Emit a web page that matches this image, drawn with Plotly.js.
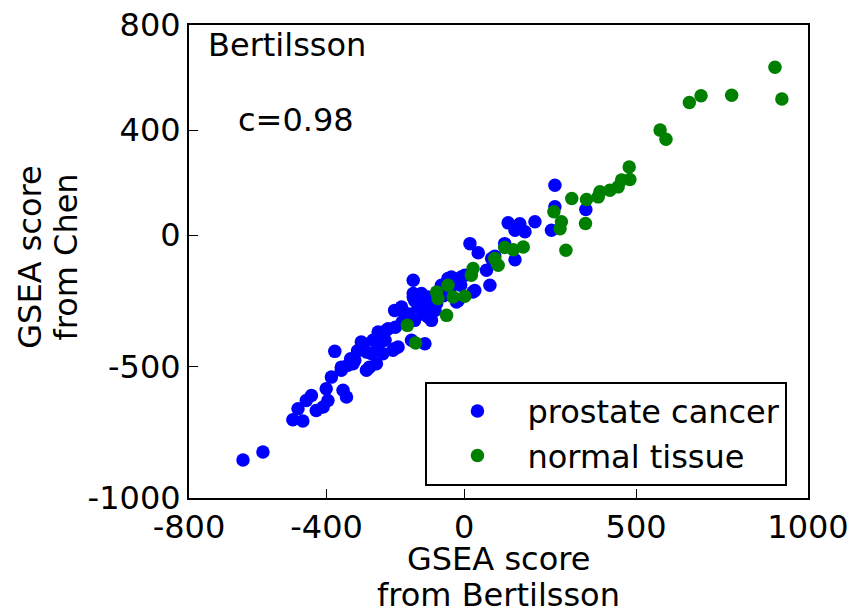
<!DOCTYPE html>
<html>
<head>
<meta charset="utf-8">
<script src="https://cdn.plot.ly/plotly-3.0.1.min.js"></script>
<style>html,body{margin:0;padding:0;background:#fff;}#chart{width:857px;height:612px;}</style>
</head>
<body>
<div id="chart"></div>
<script>
// prostate cancer (blue)
var cancerX = [-643,-585,-498,-469,-483,-459,-444,-430,-410,-396,-401,-386,-352,-342,-357,-357,-323,-376,-318,-338,
  -299,-294,-284,-284,-275,-255,-250,-245,-226,-221,-207,-202,-202,-182,-182,-148,-148,-148,-153,-114,
  -95,-109,-105,-124,-144,-47,-37,-8,-66,-22,-17,31,26,2,65,75,80,89,17,41,118,148,128,162,148,177,206,254,264,264,354,
  -129,-265,-236,-192,-134,-105,-144,-85,-250,-230,-180,-160,-130,-100,-80,-60,-200,-270,-310,-330,-170,-120,-90,-40,-10];
var cancerY = [-855,-825,-702,-707,-660,-629,-610,-667,-654,-629,-584,-540,-590,-616,-514,-502,-489,-442,-476,-495,
  -406,-413,-444,-514,-502,-489,-368,-375,-362,-356,-438,-432,-286,-273,-286,-171,-222,-235,-400,-413,
  -324,-273,-311,-222,-248,-165,-159,-159,-190,-254,-248,-210,-216,-152,-133,-190,-89,-80,-32,-67,-32,-93,47,44,19,13,51,19,190,108,98,
  -273,-400,-451,-425,-273,-235,-324,-286,-420,-400,-330,-300,-260,-240,-260,-230,-350,-450,-440,-470,-320,-300,-270,-200,-190];
// normal tissue (green)
var normalX = [904,924,778,689,655,570,587,480,482,458,448,424,395,390,356,313,353,296,283,279,261,172,143,118,89,99,26,21,-47,-80,-76,-32,2,-51,-165,-141];
var normalY = [639,518,533,531,505,400,365,260,212,210,184,171,165,146,136,140,45,-57,51,25,89,-45,-55,-47,-89,-114,-127,-152,-190,-216,-241,-235,-232,-305,-343,-410];

var xTickVals = [-800,-400,0,500,1000];
var xTickText = ["-800","-400","0","500","1000"];
var yTickVals = [-1000,-500,0,400,800];
var yTickText = ["-1000","-500","0","400","800"];
var xTitleLines = ["GSEA score", "from Bertilsson"];
var yTitleLines = ["GSEA score", "from Chen"];

var font = "DejaVu Sans";
var fs = 32;
var tf = {family: font, size: fs, color: "#000"};
var traces = [
  {x: cancerX, y: cancerY, type: "scatter", mode: "markers", name: "prostate cancer",
   marker: {color: "#0000ff", size: 13.5, line: {width: 0}}},
  {x: normalX, y: normalY, type: "scatter", mode: "markers", name: "normal tissue",
   marker: {color: "#008000", size: 13.5, line: {width: 0}}}
];
var axisCommon = {showgrid: false, zeroline: false, showline: true, mirror: true, linecolor: "#000", linewidth: 2,
  ticks: "inside", ticklen: 9, tickwidth: 1, tickcolor: "#000", tickfont: tf, tickmode: "array"};
var layout = {
  width: 857, height: 612,
  margin: {l: 189, r: 49, t: 25, b: 114, pad: 0},
  paper_bgcolor: "#fff", plot_bgcolor: "#fff",
  font: tf,
  xaxis: Object.assign({}, axisCommon, {range: [-800, 1000], tickvals: xTickVals, ticktext: xTickText}),
  yaxis: Object.assign({}, axisCommon, {range: [-1000, 800], tickvals: yTickVals, ticktext: yTickText}),
  showlegend: true,
  legend: {x: 0.382, y: 0.246, xanchor: "left", yanchor: "top", bgcolor: "#fff", bordercolor: "#000", borderwidth: 2,
    font: tf, itemwidth: 90, tracegroupgap: 6},
  annotations: [
    {xref: "paper", yref: "paper", x: 0.028, y: 0.958, xanchor: "left", yanchor: "middle", showarrow: false,
     text: "Bertilsson", font: tf},
    {xref: "paper", yref: "paper", x: 0.076, y: 0.8, xanchor: "left", yanchor: "middle", showarrow: false,
     text: "c=0.98", font: tf},
    {xref: "paper", yref: "paper", x: 0.5, y: -0.1285, xanchor: "center", yanchor: "middle", showarrow: false,
     borderpad: 0, text: xTitleLines[0], font: tf},
    {xref: "paper", yref: "paper", x: 0.5, y: -0.2055, xanchor: "center", yanchor: "middle", showarrow: false,
     borderpad: 0, text: xTitleLines[1], font: tf},
    {xref: "paper", yref: "paper", x: -0.257, y: 0.51, xanchor: "center", yanchor: "middle", showarrow: false,
     textangle: -90, text: yTitleLines[0], font: tf},
    {xref: "paper", yref: "paper", x: -0.199, y: 0.51, xanchor: "center", yanchor: "middle", showarrow: false,
     textangle: -90, text: yTitleLines[1], font: tf}
  ]
};
Plotly.newPlot("chart", traces, layout, {displayModeBar: false, staticPlot: true});
</script>
</body>
</html>
